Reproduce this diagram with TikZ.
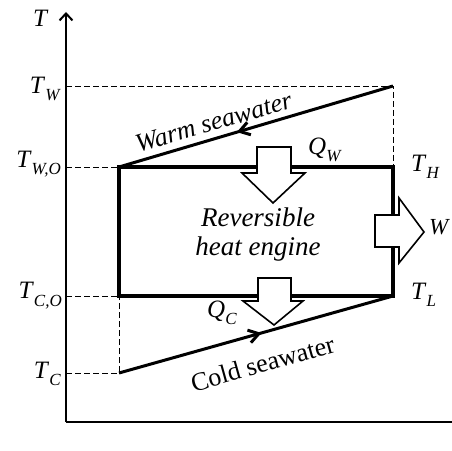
\documentclass[tikz,border=0pt]{standalone}
\usepackage{fontspec}
\setmainfont{Liberation Serif}
\usetikzlibrary{arrows.meta,decorations.markings}
\newcommand{\subfont}{\fontsize{17}{17}\selectfont}
\newcommand{\lab}[2]{\textit{#1}\raisebox{-7pt}{\subfont\textit{#2}}}

\tikzset{
  guide/.style={dash pattern=on 6pt off 3pt, line width=0.9pt},
  cycleline/.style={line width=3.5pt, line join=miter},
  stream/.style={line width=3pt, postaction=decorate,
    decoration={markings, mark=at position #1 with
      {\arrow{Straight Barb[length=10pt,width=13pt]}}}},
  blockarrow/.style={draw, line width=1.6pt, fill=white, line join=miter},
  lbl/.style={font=\fontsize{25}{25}\selectfont, inner sep=0pt},
}

\begin{document}
\begin{tikzpicture}[x=1pt, y=1pt]
    \useasboundingbox (0,0) rectangle (452,450);
    % corners of the cycle and stream ends
    \coordinate (wo) at (119,283);
    \coordinate (h) at (393,283);
    \coordinate (l) at (393,154);
    \coordinate (co) at (119,154);
    \coordinate (w) at (393,364);
    \coordinate (c) at (119,77);
    \coordinate (org) at (66,28);
    \coordinate (ytop) at (66,438);
    \coordinate (xend) at (452,28);
    % guide lines
    \draw[guide] (66,364) -- (w) -- (h);
    \draw[guide] (66,283) -- (wo);
    \draw[guide] (66,154) -- (co);
    \draw[guide] (66,77) -- (c) -- (co);
    % axes
    \draw[line width=2pt, -{Straight Barb[length=7pt,width=13pt]}] (org) -- (ytop);
    \draw[line width=2pt] (org) -- (xend);
    % cycle
    \draw[cycleline] (wo) -- (h) -- (l) -- (co) -- cycle;
    % seawater streams
    \draw[stream=0.57] (w) -- (wo);
    \draw[stream=0.52] (c) -- (l);
    % heat and work
    \draw[blockarrow] (257,303) -- (291,303) -- (291,277) -- (305,277)
        -- (273,247) -- (242,277) -- (257,277) -- cycle;
    \draw[blockarrow] (258,172) -- (291,172) -- (291,149) -- (303,149)
        -- (274,125) -- (243,149) -- (258,149) -- cycle;
    \draw[blockarrow] (375,235) -- (399,235) -- (399,252) -- (424,218)
        -- (399,187) -- (399,203) -- (375,203) -- cycle;
    % labels
    \node[lbl, anchor=base west] (Tax) at (33,423) {\textit{T}};
    \node[lbl, anchor=base east] (Tw) at (61,356) {\lab{T}{W}};
    \node[lbl, anchor=base east] (Two) at (61,282) {\lab{T}{W,O}};
    \node[lbl, anchor=base east] (Tco) at (62,151) {\lab{T}{C,O}};
    \node[lbl, anchor=base east] (Tc) at (61,72) {\lab{T}{C}};
    \node[lbl, anchor=base west] (Th) at (411,278) {\lab{T}{H}};
    \node[lbl, anchor=base west] (Tl) at (411,150) {\lab{T}{L}};
    \node[lbl, anchor=base west, font=\fontsize{23}{23}\selectfont] (Wk) at (429,215) {\textit{W}};
    \node[lbl, anchor=base west] (Qw) at (308,295) {\lab{Q}{W}};
    \node[lbl, anchor=base west] (Qc) at (207,133) {\lab{Q}{C}};
    \node[lbl, align=center, font=\fontsize{27}{29}\selectfont\itshape]
        (engine) at (258,215) {Reversible\\heat engine};
    \node[lbl, anchor=base, rotate=16.1, font=\fontsize{26}{26}\selectfont]
        (warm) at (216,320) {\textit{Warm seawater}};
    \node[lbl, anchor=base, rotate=15.7, font=\fontsize{26}{26}\selectfont]
        (cold) at (265,78) {Cold seawater};
\end{tikzpicture}
\end{document}
